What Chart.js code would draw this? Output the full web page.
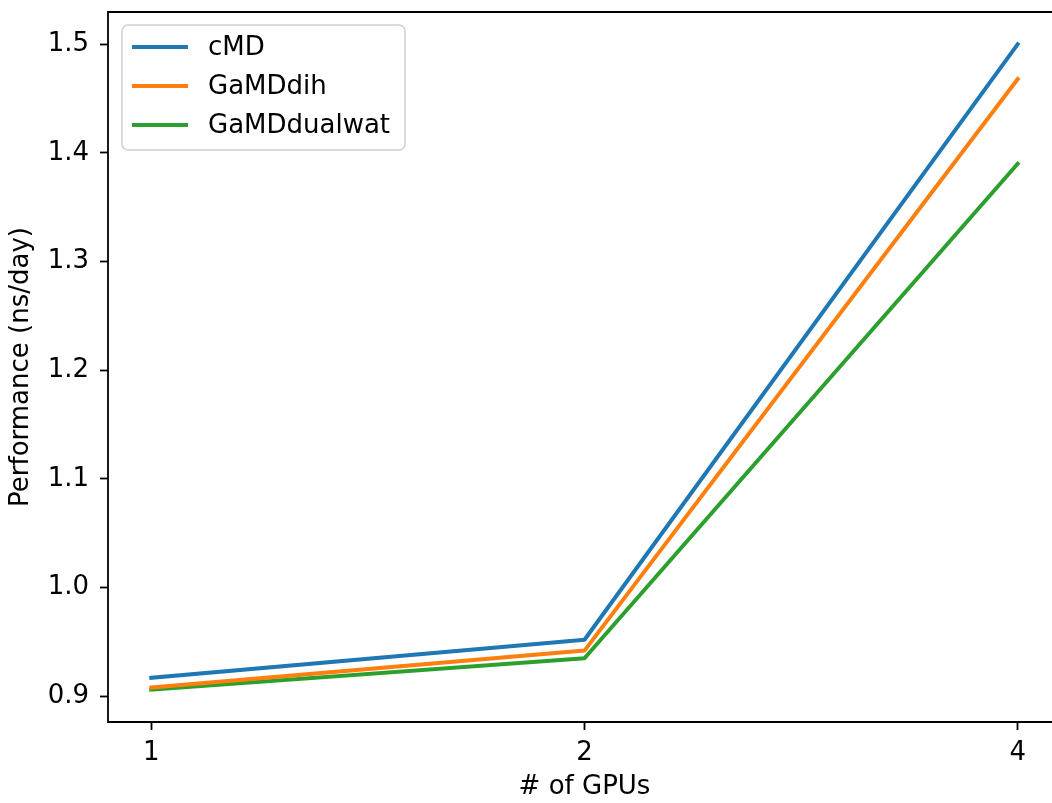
<!DOCTYPE html>
<html>
<head>
<meta charset="utf-8">
<script src="https://cdn.jsdelivr.net/npm/chart.js@4.4.1/dist/chart.umd.min.js"></script>
<style>
    html, body { margin: 0; padding: 0; background: #fff; overflow: hidden; }
    #wrap { width: 1052px; height: 803px; overflow: hidden; position: relative; }
    #perf-chart { position: absolute; left: 0; top: 0; }
</style>
</head>
<body>
<div id="wrap"><canvas id="perf-chart" width="1062" height="803"></canvas></div>
<script>
// GPU counts (plotted at equal spacing)
const gpuCounts = ['1', '2', '4'];

// Performance in ns/day
const cmdValues = [0.917, 0.952, 1.500];
const gamdDihValues = [0.908, 0.942, 1.468];
const gamdDualwatValues = [0.906, 0.935, 1.390];

const yTicks = [0.9, 1.0, 1.1, 1.2, 1.3, 1.4, 1.5];

const FONT = 'DejaVu Sans';
const FONT_SIZE = 26;
const toPoints = (vals) => vals.map((v, i) => ({ x: i, y: v }));

// Spines: left, top and bottom (the right one falls outside the picture)
const framePlugin = {
    id: 'frame',
    afterDraw(chart) {
        const { ctx, chartArea: a } = chart;
        ctx.save();
        ctx.strokeStyle = '#000';
        ctx.lineWidth = 1.8;
        ctx.beginPath();
        ctx.moveTo(chart.width, a.top);
        ctx.lineTo(a.left, a.top);
        ctx.lineTo(a.left, a.bottom);
        ctx.lineTo(chart.width, a.bottom);
        ctx.stroke();
        ctx.restore();
    }
};

// Matplotlib-like legend box in the upper left corner
const legendPlugin = {
    id: 'mplLegend',
    afterDraw(chart) {
        const { ctx } = chart;
        const x = 122, y = 25, w = 283, h = 125, r = 6;
        ctx.save();
        ctx.beginPath();
        ctx.roundRect(x, y, w, h, r);
        ctx.fillStyle = 'rgba(255,255,255,0.8)';
        ctx.fill();
        ctx.strokeStyle = '#d0d0d0';
        ctx.lineWidth = 1.5;
        ctx.stroke();

        ctx.font = FONT_SIZE + 'px "' + FONT + '"';
        ctx.textBaseline = 'middle';
        ctx.textAlign = 'left';
        chart.data.datasets.forEach((ds, i) => {
            const cy = 47 + i * 39;
            ctx.beginPath();
            ctx.moveTo(132, cy);
            ctx.lineTo(188, cy);
            ctx.strokeStyle = ds.borderColor;
            ctx.lineWidth = 4;
            ctx.stroke();
            ctx.fillStyle = '#000';
            ctx.fillText(ds.label, 208, cy + 1);
        });
        ctx.restore();
    }
};

const ctx = document.getElementById('perf-chart');
new Chart(ctx, {
    type: 'line',
    data: {
        datasets: [
            { label: 'cMD', data: toPoints(cmdValues), borderColor: '#1f77b4' },
            { label: 'GaMDdih', data: toPoints(gamdDihValues), borderColor: '#ff7f0e' },
            { label: 'GaMDdualwat', data: toPoints(gamdDualwatValues), borderColor: '#2ca02c' }
        ]
    },
    options: {
        responsive: false,
        animation: false,
        devicePixelRatio: 1,
        layout: { padding: { top: 12, right: 1, left: 0, bottom: 0 } },
        elements: {
            line: { borderWidth: 4, tension: 0, borderJoinStyle: 'round', borderCapStyle: 'square', fill: false },
            point: { radius: 0, hoverRadius: 0 }
        },
        plugins: {
            legend: { display: false },
            tooltip: { enabled: false }
        },
        scales: {
            x: {
                type: 'linear',
                min: -0.1,
                max: 2.1,
                afterBuildTicks: (scale) => {
                    scale.ticks = gpuCounts.map((g, i) => ({ value: i }));
                },
                afterFit: (scale) => {
                    scale.height = 81;
                    scale.paddingLeft = 0;
                    scale.paddingRight = 0;
                },
                ticks: {
                    color: '#000',
                    font: { family: FONT, size: FONT_SIZE },
                    padding: 8,
                    maxRotation: 0,
                    callback: (v) => gpuCounts[v]
                },
                grid: { drawOnChartArea: false, tickLength: 8, tickColor: '#000', tickWidth: 1.8 },
                border: { display: false },
                title: {
                    display: true,
                    text: '# of GPUs',
                    color: '#000',
                    font: { family: FONT, size: FONT_SIZE },
                    padding: { top: 0, bottom: 0 }
                }
            },
            y: {
                type: 'linear',
                min: 0.8763,
                max: 1.5297,
                afterBuildTicks: (scale) => {
                    scale.ticks = yTicks.map(v => ({ value: v }));
                },
                afterFit: (scale) => {
                    scale.width = 108;
                    scale.paddingTop = 0;
                    scale.paddingBottom = 0;
                },
                ticks: {
                    color: '#000',
                    font: { family: FONT, size: FONT_SIZE },
                    padding: 11,
                    callback: (v) => v.toFixed(1)
                },
                grid: { drawOnChartArea: false, tickLength: 8, tickColor: '#000', tickWidth: 1.8 },
                border: { display: false },
                title: {
                    display: true,
                    text: 'Performance (ns/day)',
                    color: '#000',
                    font: { family: FONT, size: FONT_SIZE },
                    padding: { top: 6, bottom: 0 }
                }
            }
        }
    },
    plugins: [framePlugin, legendPlugin]
});
</script>
</body>
</html>
